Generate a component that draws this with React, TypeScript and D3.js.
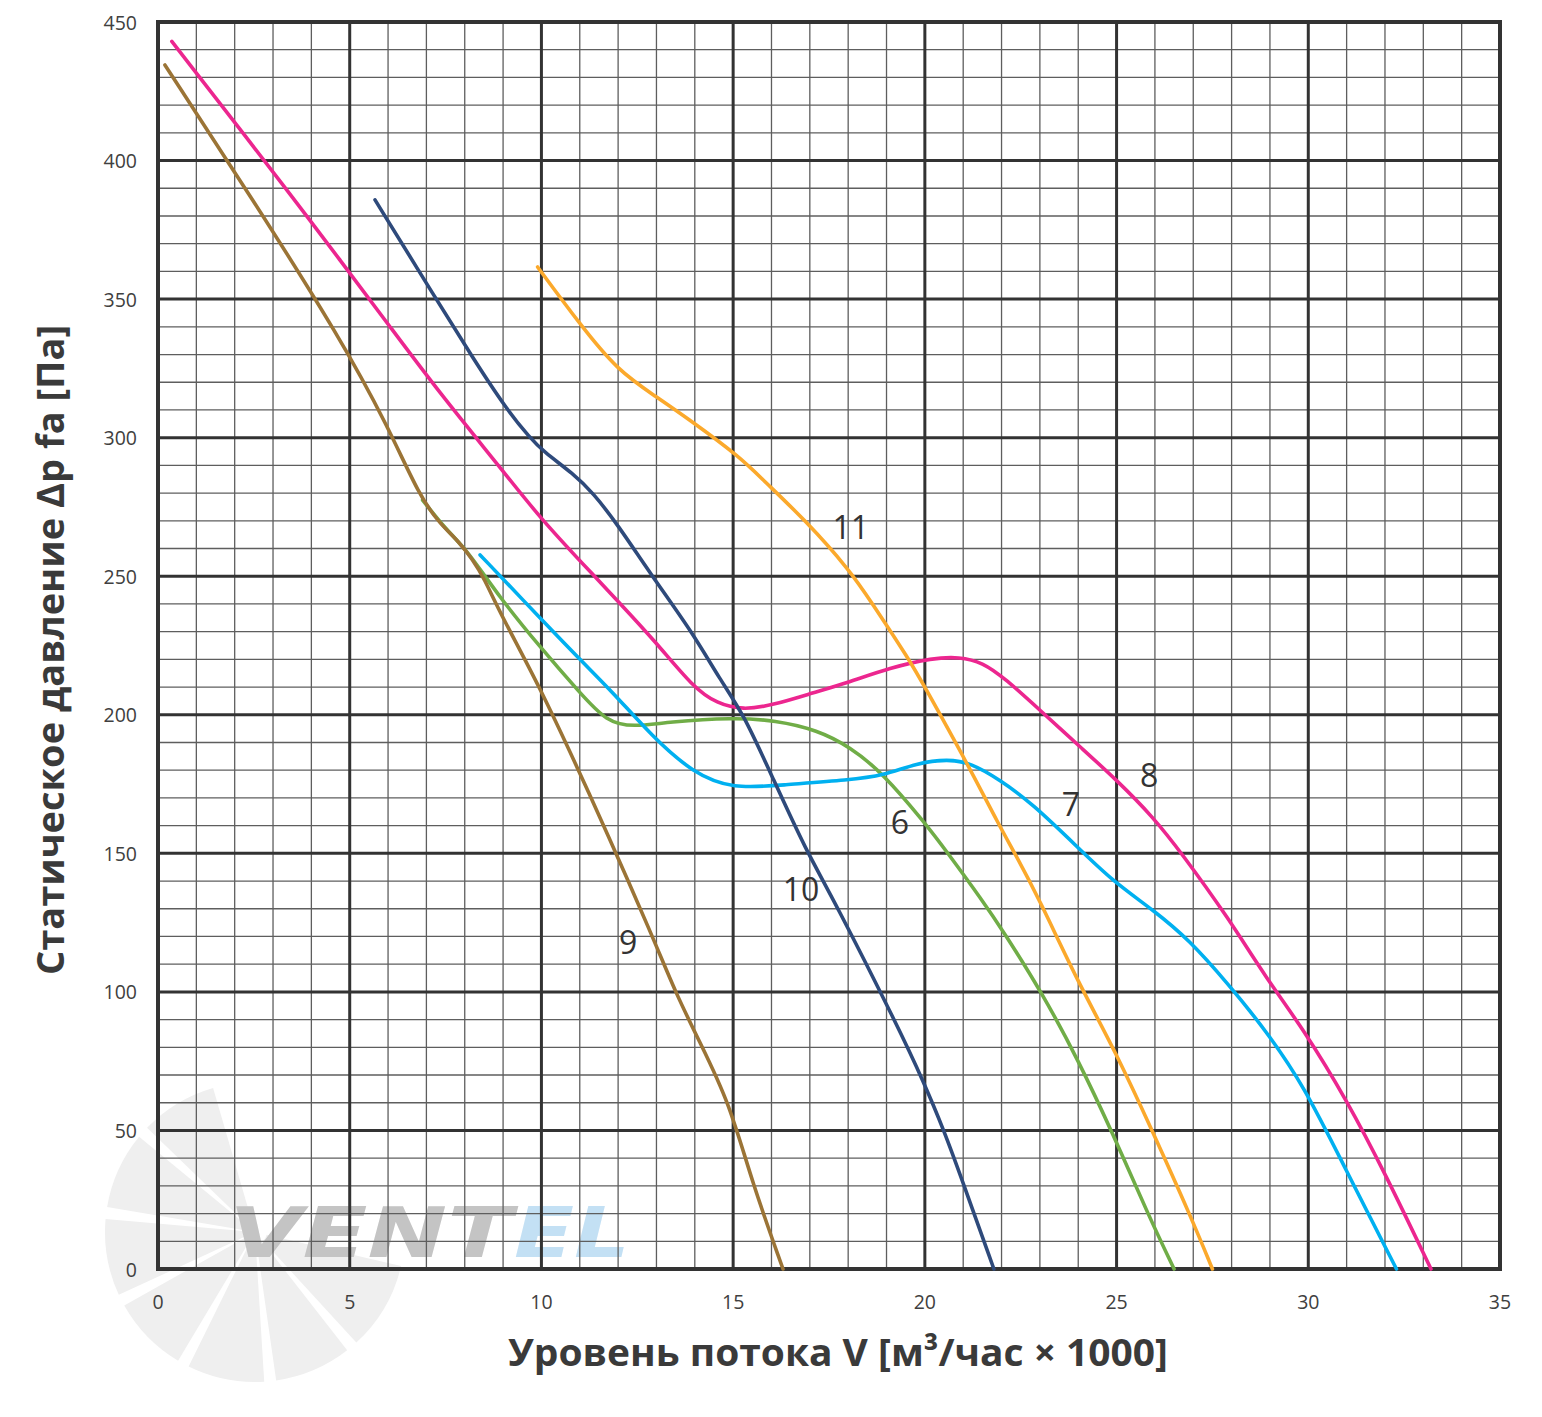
import * as d3 from "d3"

// flow (m³/h × 1000) and static pressure (Pa)
const c6x = [6.9, 7.5, 8.06, 8.9, 9.96, 11.0, 11.7, 12.4, 13.3, 15.0, 16.1, 17.2, 18.05, 18.9, 20.0, 20.55, 21.5, 22.04, 23.06, 24.0, 24.9, 25.85, 26.5]
const c6p = [277.5, 267, 259.5, 242.5, 224.5, 208, 197.4, 195.6, 197.4, 199, 198, 194.5, 188.4, 179, 161, 151, 133, 122, 99.6, 75.4, 49, 18.8, 0]

const c7x = [8.4, 9.96, 11.0, 11.87, 12.9, 13.95, 15.0, 16.3, 18.05, 18.9, 19.8, 20.6, 21.2, 21.96, 22.8, 24.0, 24.9, 25.96, 26.9, 27.9, 28.9, 29.9, 30.9, 32.3]
const c7p = [257.7, 235, 220, 208, 192, 179, 173.2, 174.7, 176.5, 178, 182.6, 184, 182.6, 176.5, 168, 152, 140, 129.5, 118.7, 103, 86, 65.7, 38, 0]

const c8x = [0.36, 3.57, 4.75, 6.0, 7.35, 9.0, 9.96, 11.45, 11.97, 13.0, 13.95, 14.58, 15.26, 16.04, 17.1, 17.97, 19.1, 20.2, 20.9, 21.5, 22.1, 23.0, 24.05, 25.0, 25.96, 26.7, 27.9, 28.9, 29.9, 31.0, 32.0, 33.2]
const c8p = [443, 385.8, 364, 341, 316, 288, 271, 249, 241.4, 226, 210, 204, 201.7, 203.5, 208, 211.5, 217, 220.5, 220.9, 219, 213, 201.7, 188.4, 176.5, 163, 150, 127, 105, 86, 61, 34.6, 0]

const c9x = [0.18, 2.48, 4.75, 6.0, 6.83, 7.35, 7.88, 8.2, 8.5, 8.92, 9.96, 11.0, 11.66, 12.9, 13.5, 14.14, 14.9, 15.5, 16.3]
const c9p = [434.5, 385.8, 336, 304, 278.6, 269, 262, 256, 249.5, 236.7, 210, 179, 159, 120, 99.6, 81.6, 60, 31, 0]

const c10x = [5.66, 7.27, 8.2, 9.1, 9.7, 10.05, 10.83, 11.35, 11.97, 12.9, 13.95, 14.66, 15.26, 16.04, 16.9, 17.6, 19.35, 19.95, 20.5, 21.0, 21.8]
const c10p = [385.8, 349.7, 329, 310, 300, 295, 287, 280, 269, 249.7, 229.5, 212.6, 200.6, 177, 151, 134, 86, 68, 50, 31, 0]

const c11x = [9.9, 11.0, 11.97, 13.0, 13.87, 15.18, 15.78, 16.9, 18.05, 18.57, 19.6, 20.0, 21.1, 21.96, 22.35, 23.0, 23.94, 24.99, 25.96, 26.94, 27.5]
const c11p = [361.6, 341, 324.4, 314.7, 306.4, 293, 284.7, 270, 252, 241.4, 219.8, 210, 182.6, 159.5, 150, 133, 105, 78, 49, 18.8, 0]

const curveNames = ["6", "7", "8", "9", "10", "11"]
const curveColors = ["#70AD47", "#00B0F0", "#EC268F", "#9B7436", "#2E4A7B", "#FBA92C"]
const curveX = [c6x, c7x, c8x, c9x, c10x, c11x]
const curveP = [c6p, c7p, c8p, c9p, c10p, c11p]

// where the curve numbers sit (flow, pressure)
const labelX = [19.35, 23.81, 25.85, 12.26, 16.77, 18.07]
const labelP = [161.6, 168, 178.5, 118.3, 137.2, 267.8]

const xTicks = [0, 5, 10, 15, 20, 25, 30, 35]
const yTicks = [0, 50, 100, 150, 200, 250, 300, 350, 400, 450]

const W = 1542
const H = 1417
const left = 158
const right = 1500
const top = 22
const bottom = 1269

export default function App() {
    const x = d3.scaleLinear().domain([0, 35]).range([left, right])
    const y = d3.scaleLinear().domain([0, 450]).range([bottom, top])

    const line = d3.line<[number, number]>()
        .x(d => x(d[0]))
        .y(d => y(d[1]))
        .curve(d3.curveBasis)

    const minorX = d3.range(0, 36, 1).filter(v => v % 5 !== 0)
    const minorY = d3.range(0, 451, 10).filter(v => v % 50 !== 0)

    // faint logo fan in the lower left corner
    const fan = d3.arc<{ a0: number; a1: number }>()
        .innerRadius(12)
        .outerRadius(150)
        .startAngle(d => d.a0)
        .endAngle(d => d.a1)
    const blades = [
        { a0: 1.8, a1: 2.4 },
        { a0: 2.48, a1: 3.0 },
        { a0: 3.08, a1: 3.6 },
        { a0: 3.68, a1: 4.2 },
        { a0: 4.28, a1: 4.8 },
        { a0: 4.88, a1: 5.4 },
        { a0: 5.48, a1: 6.0 },
    ]

    const font = "'Open Sans', 'DejaVu Sans', sans-serif"

    return (
        <svg width={W} height={H} style={{ display: "block", margin: -8 }}>
            <rect width={W} height={H} fill="#fff" />

            <g>
                <g transform="translate(255,1232)">
                    {blades.map((b, i) => (
                        <path key={i} d={fan(b) || ""} fill="#efefef" />
                    ))}
                </g>
                <text x={229} y={1257} fontFamily="'DejaVu Sans', sans-serif" fontWeight={900}
                    fontStyle="italic" fontSize={70} fill="#c4c4c4"
                    textLength={283} lengthAdjust="spacingAndGlyphs">VENT</text>
                <text x={514} y={1257} fontFamily="'DejaVu Sans', sans-serif" fontWeight={900}
                    fontStyle="italic" fontSize={70} fill="#c3e0f4"
                    textLength={116} lengthAdjust="spacingAndGlyphs">EL</text>
            </g>

            <g stroke="#5e5e5e" strokeWidth={1.3}>
                {minorX.map(v => (
                    <line key={"mx" + v} x1={x(v)} x2={x(v)} y1={top} y2={bottom} />
                ))}
                {minorY.map(v => (
                    <line key={"my" + v} x1={left} x2={right} y1={y(v)} y2={y(v)} />
                ))}
            </g>
            <g stroke="#333" strokeWidth={3}>
                {xTicks.map(v => (
                    <line key={"Mx" + v} x1={x(v)} x2={x(v)} y1={top} y2={bottom} />
                ))}
                {yTicks.map(v => (
                    <line key={"My" + v} x1={left} x2={right} y1={y(v)} y2={y(v)} />
                ))}
            </g>
            <rect x={left} y={top} width={right - left} height={bottom - top}
                fill="none" stroke="#333" strokeWidth={4} />

            {curveNames.map((n, i) => {
                const pts = curveX[i].map((v, j) => [v, curveP[i][j]] as [number, number])
                return (
                    <path key={"c" + n} d={line(pts) || ""} fill="none"
                        stroke={curveColors[i]} strokeWidth={3.6}
                        strokeLinecap="round" strokeLinejoin="round" />
                )
            })}

            {curveNames.map((n, i) => (
                <text key={"l" + n} x={x(labelX[i])} y={y(labelP[i])}
                    textAnchor="middle" dominantBaseline="central"
                    fontFamily={font} fontSize={32} fill="#333">{n}</text>
            ))}

            {yTicks.map(v => (
                <text key={"yt" + v} x={137} y={y(v)} textAnchor="end"
                    dominantBaseline="central" fontFamily={font} fontSize={19.5}
                    fill="#404040">{v}</text>
            ))}
            {xTicks.map(v => (
                <text key={"xt" + v} x={x(v)} y={1301} textAnchor="middle"
                    dominantBaseline="central" fontFamily={font} fontSize={19.5}
                    fill="#404040">{v}</text>
            ))}

            <text x={838} y={1366} textAnchor="middle" fontFamily={font}
                fontWeight={700} fontSize={38} fill="#3a3a3a"
                textLength={660} lengthAdjust="spacingAndGlyphs">
                Уровень потока V [м³/час × 1000]
            </text>
            <text transform="translate(64,650) rotate(-90)" textAnchor="middle"
                fontFamily={font} fontWeight={700} fontSize={38} fill="#3a3a3a"
                textLength={650} lengthAdjust="spacingAndGlyphs">
                Статическое давление Δp fa [Па]
            </text>
        </svg>
    )
}
